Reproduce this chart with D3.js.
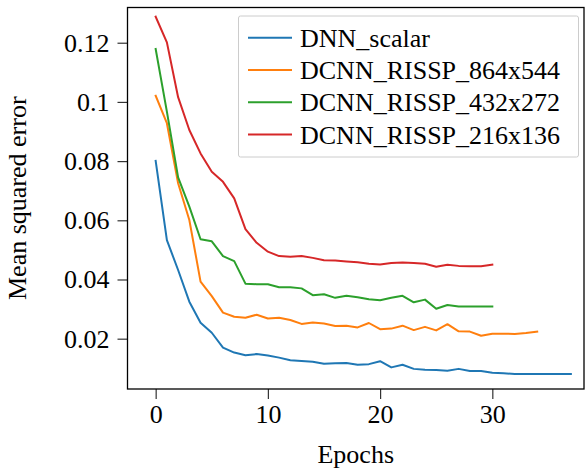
<!DOCTYPE html>
<html>
<head>
<meta charset="utf-8" />
<title>Mean squared error vs epochs</title>
<script src="https://cdnjs.cloudflare.com/ajax/libs/d3/7.8.5/d3.min.js"></script>
<style>
html, body { margin: 0; padding: 0; background: #fff; }
svg text { font-family: 'Liberation Serif', 'DejaVu Serif', serif; fill: #000; }
</style>
</head>
<body>
<svg id="chart" width="585" height="471"></svg>
<script>
var seriesNames = ["DNN_scalar", "DCNN_RISSP_864x544", "DCNN_RISSP_432x272", "DCNN_RISSP_216x136"];
var colors = ["#1f77b4", "#ff7f0e", "#2ca02c", "#d62728"];

var dnnScalar = [0.0801, 0.0533, 0.0432, 0.0325, 0.0254, 0.0220, 0.0170, 0.0153, 0.0144, 0.0148,
  0.0143, 0.0136, 0.0127, 0.0125, 0.0122, 0.0115, 0.0117, 0.0118, 0.0112, 0.0114,
  0.0124, 0.0103, 0.0112, 0.0098, 0.0095, 0.0094, 0.0092, 0.0098, 0.0091, 0.0091,
  0.0085, 0.0083, 0.0081, 0.0081, 0.0081, 0.0081, 0.0081, 0.0081];
var rissp864 = [0.1021, 0.0928, 0.0725, 0.0601, 0.0393, 0.0344, 0.0288, 0.0274, 0.0271, 0.0281,
  0.0268, 0.0271, 0.0263, 0.0250, 0.0255, 0.0251, 0.0243, 0.0244, 0.0238, 0.0253,
  0.0232, 0.0234, 0.0244, 0.0229, 0.0240, 0.0228, 0.0249, 0.0225, 0.0224, 0.0210,
  0.0217, 0.0217, 0.0216, 0.0219, 0.0224];
var rissp432 = [0.1179, 0.0967, 0.0745, 0.0646, 0.0536, 0.0529, 0.0479, 0.0462, 0.0386, 0.0384,
  0.0384, 0.0374, 0.0374, 0.0370, 0.0347, 0.0350, 0.0338, 0.0345, 0.0340, 0.0333,
  0.0330, 0.0338, 0.0345, 0.0323, 0.0332, 0.0301, 0.0314, 0.0309, 0.0309, 0.0309, 0.0309];
var rissp216 = [0.1288, 0.1201, 0.1016, 0.0905, 0.0826, 0.0764, 0.0730, 0.0674, 0.0570, 0.0524,
  0.0494, 0.0479, 0.0477, 0.0479, 0.0473, 0.0465, 0.0464, 0.0461, 0.0458, 0.0453,
  0.0451, 0.0456, 0.0457, 0.0456, 0.0453, 0.0443, 0.0450, 0.0446, 0.0445, 0.0445, 0.0450];

var xTicks = [0, 10, 20, 30];
var yTicks = [0.02, 0.04, 0.06, 0.08, 0.1, 0.12];
var yTickLabels = ["0.02", "0.04", "0.06", "0.08", "0.1", "0.12"];

var allSeries = [dnnScalar, rissp864, rissp432, rissp216];

// plot box in pixels
var plotLeft = 127.5, plotRight = 584, plotTop = 7.5, plotBottom = 389;

var svg = d3.select("#chart");

var x = d3.scaleLinear().domain([-2.51, 38.17]).range([plotLeft, plotRight]);
var y = d3.scaleLinear().domain([0.0030, 0.1319]).range([plotBottom, plotTop]);

// lines
var line = d3.line()
  .x(function(d, i) { return x(i); })
  .y(function(d) { return y(d); });

svg.append("g").selectAll("path")
  .data(allSeries)
  .enter()
  .append("path")
  .attr("d", line)
  .attr("fill", "none")
  .attr("stroke", function(d, i) { return colors[i]; })
  .attr("stroke-width", 2)
  .attr("stroke-linejoin", "round")
  .attr("stroke-linecap", "square");

// axes
var xAxis = d3.axisBottom(x).tickValues(xTicks).tickSize(10).tickPadding(6)
  .tickFormat(d3.format("d"));
var gx = svg.append("g").attr("transform", "translate(0," + plotBottom + ")").call(xAxis);

var yAxis = d3.axisLeft(y).tickValues(yTicks).tickSize(10).tickPadding(8)
  .tickFormat(function(d, i) { return yTickLabels[i]; });
var gy = svg.append("g").attr("transform", "translate(" + plotLeft + ",0)").call(yAxis);

[gx, gy].forEach(function(g) {
  g.select(".domain").remove();
  g.selectAll(".tick line").attr("stroke", "#333").attr("stroke-width", 1.2);
  g.selectAll(".tick text").attr("font-size", 26).attr("font-family", "Liberation Serif, serif").attr("fill", "#000");
});

// frame
svg.append("rect")
  .attr("x", plotLeft).attr("y", plotTop)
  .attr("width", plotRight - plotLeft).attr("height", plotBottom - plotTop)
  .attr("fill", "none").attr("stroke", "#000").attr("stroke-width", 1.3);

// axis labels
svg.append("text")
  .attr("x", (plotLeft + plotRight) / 2).attr("y", 463)
  .attr("text-anchor", "middle").attr("font-size", 26)
  .text("Epochs");

svg.append("text")
  .attr("transform", "translate(26," + (plotTop + plotBottom) / 2 + ") rotate(-90)")
  .attr("text-anchor", "middle").attr("font-size", 26)
  .text("Mean squared error");

// legend
var legend = svg.append("g");
legend.append("rect")
  .attr("x", 238.5).attr("y", 16).attr("width", 340).attr("height", 141)
  .attr("rx", 2)
  .attr("fill", "#fff").attr("fill-opacity", 0.8)
  .attr("stroke", "#ccc").attr("stroke-width", 1);

var items = legend.selectAll(".item")
  .data(seriesNames)
  .enter()
  .append("g")
  .attr("transform", function(d, i) { return "translate(0," + (37.7 + i * 32.3) + ")"; });

items.append("line")
  .attr("x1", 248).attr("x2", 292).attr("y1", 0).attr("y2", 0)
  .attr("stroke", function(d, i) { return colors[i]; })
  .attr("stroke-width", 2);

items.append("text")
  .attr("x", 300).attr("y", 9)
  .attr("font-size", 26)
  .text(function(d) { return d; });
</script>
</body>
</html>
